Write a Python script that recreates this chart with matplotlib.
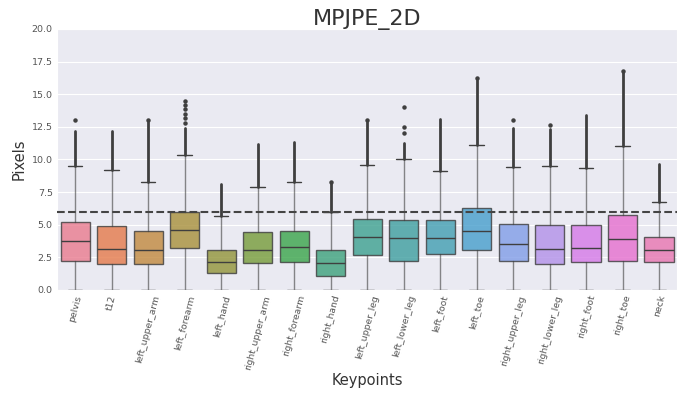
import colorsys
import matplotlib
matplotlib.use("Agg")
import matplotlib.pyplot as plt
import seaborn as sns

# Per-keypoint box statistics (pixels)
keypoints = ["pelvis", "t12", "left_upper_arm", "left_forearm", "left_hand",
             "right_upper_arm", "right_forearm", "right_hand", "left_upper_leg",
             "left_lower_leg", "left_foot", "left_toe", "right_upper_leg",
             "right_lower_leg", "right_foot", "right_toe", "neck"]
q1 = [2.25, 2.0, 2.02, 3.2, 1.30, 2.07, 2.17, 1.10, 2.71,
      2.25, 2.76, 3.07, 2.2, 1.97, 2.12, 2.25, 2.15]
medians = [3.73, 3.12, 3.07, 4.58, 2.12, 3.09, 3.27, 2.05, 4.09,
           3.99, 3.99, 4.48, 3.55, 3.17, 3.2, 3.91, 3.07]
q3 = [5.17, 4.86, 4.53, 5.98, 3.09, 4.40, 4.53, 3.07, 5.42,
      5.37, 5.32, 6.27, 5.06, 4.96, 5.01, 5.73, 4.02]
whisker_lo = [0.0] * 17
whisker_hi = [9.5, 9.15, 8.26, 10.3, 5.68, 7.85, 8.24, 5.96, 9.57,
              10.04, 9.12, 11.1, 9.41, 9.46, 9.31, 11.05, 6.77]
# top of the dense run of outliers above each upper whisker
dense_top = [12.2, 12.2, 12.9, 12.4, 8.1, 11.2, 11.3, 8.2, 12.9,
             11.25, 13.1, 16.1, 12.4, 12.3, 13.4, 16.7, 9.66]
# isolated outliers above the dense run
sparse_fliers = [[13.0], [], [13.0], [12.8, 13.2, 13.5, 13.9, 14.2, 14.5], [],
                 [], [], [8.3], [13.0], [12.0, 12.5, 14.0], [], [16.2],
                 [13.05], [12.6], [], [16.8], []]
threshold = 6.0

sns.set_style("darkgrid")

colors = [sns.desaturate(c, 0.8) for c in sns.color_palette("husl", len(keypoints))]
lum = min(colorsys.rgb_to_hls(*c)[1] for c in colors) * 0.6
gray = (lum, lum, lum)

fig, ax = plt.subplots(figsize=(6.78, 3.96), dpi=100)
fig.subplots_adjust(left=0.084, right=0.999, bottom=0.268, top=0.927)

stats = []
for i, name in enumerate(keypoints):
    stats.append({
        "label": name, "q1": q1[i], "med": medians[i], "q3": q3[i],
        "whislo": whisker_lo[i], "whishi": whisker_hi[i],
        "fliers": sparse_fliers[i],
    })

pos = list(range(len(keypoints)))
bp = ax.bxp(stats, positions=pos, widths=0.8, patch_artist=True,
            boxprops=dict(edgecolor=gray, linewidth=1.0),
            medianprops=dict(color=gray, linewidth=1.0),
            whiskerprops=dict(color=gray, linewidth=1.0, alpha=0.6),
            capprops=dict(color=gray, linewidth=1.0),
            flierprops=dict(marker="o", markersize=2.2, markerfacecolor=gray,
                            markeredgecolor=gray))
for patch, c in zip(bp["boxes"], colors):
    patch.set_facecolor(c)
    patch.set_alpha(0.82)

# dense outlier columns
ax.vlines(pos, whisker_hi, dense_top, color=gray, linewidth=2.0,
          capstyle="round", zorder=3)

ax.axhline(threshold, color="#444444", linestyle="--", linewidth=1.5, zorder=4)

ax.set_xlim(-0.5, len(keypoints) - 0.5)
ax.set_ylim(0, 20)
ax.set_yticks([0, 2.5, 5, 7.5, 10, 12.5, 15, 17.5, 20])
ax.set_yticklabels([f"{v:.1f}" for v in ax.get_yticks()], fontsize=6.8, color="#555555")
ax.set_xticks(pos)
ax.set_xticklabels(keypoints, rotation=75, fontsize=6.7, color="#555555")
ax.xaxis.grid(False)
ax.tick_params(axis="both", length=0, pad=3)

ax.set_title("MPJPE_2D", fontsize=16, color="#333333", pad=3)
ax.set_xlabel("Keypoints", fontsize=10.5, color="#333333", labelpad=2)
ax.set_ylabel("Pixels", fontsize=10.5, color="#333333")

fig.savefig("out.png", dpi=100)
